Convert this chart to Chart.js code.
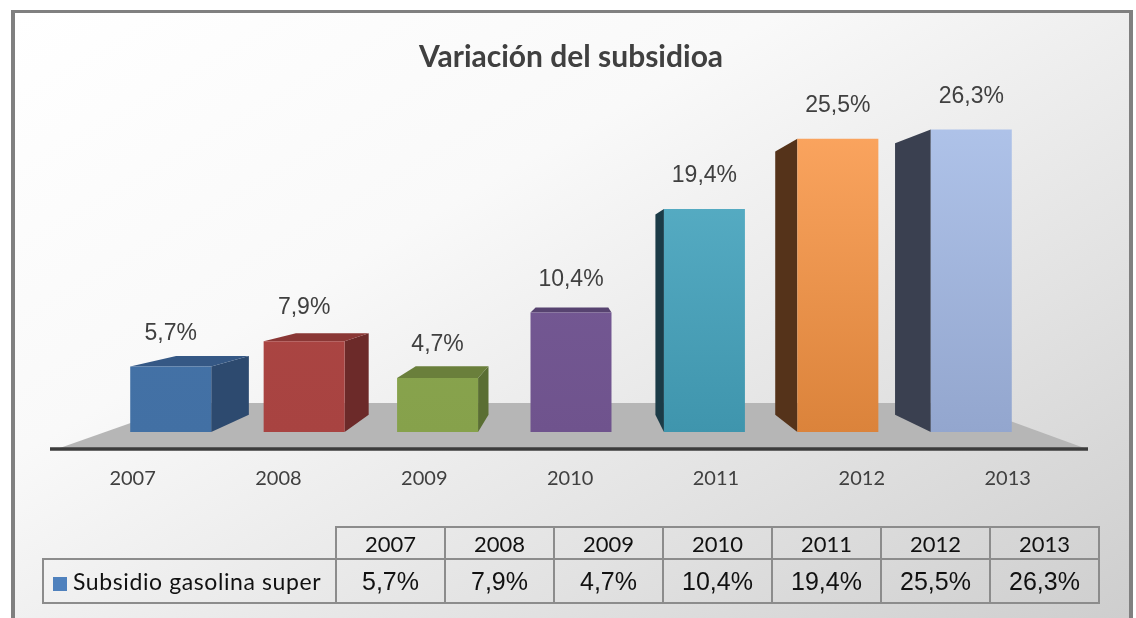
<!DOCTYPE html>
<html lang="es">
<head>
  <meta charset="UTF-8" />
  <title>Variación del subsidioa</title>
  <script src="https://cdn.jsdelivr.net/npm/chart.js"></script>
  <style>
    html, body {
      margin: 0;
      padding: 0;
      background: #ffffff;
      overflow: hidden;
    }
    .stage {
      position: relative;
      width: 1136px;
      height: 618px;
    }
    .frame {
      position: absolute;
      left: 11px;
      top: 10px;
      width: 1114px;
      height: 620px;
      border: 4px solid #808080;
      border-top-width: 3px;
      background: linear-gradient(150deg, #ffffff 0%, #f9f9f9 35%, #e2e2e2 70%, #cdcdcd 100%);
    }
    #chart {
      position: absolute;
      left: 0;
      top: 0;
    }
    .data-table {
      position: absolute;
      left: 42px;
      top: 526px;
      border-collapse: collapse;
      font-family: Lato, 'Open Sans', sans-serif;
      color: #111;
    }
    .data-table td {
      border: 2px solid #8c8c8c;
      text-align: center;
      padding: 0;
      width: 107px;
    }
    .data-table tr.head td {
      height: 30px;
      font-size: 22px;
    }
    .data-table tr.vals td {
      height: 42px;
      font-family: 'Liberation Sans', Arial, sans-serif;
      font-size: 25px;
    }
    .data-table td.blank {
      border-top: none;
      border-left: none;
      width: 292px;
    }
    .data-table tr.vals td.series {
      font-family: Lato, 'Open Sans', sans-serif;
      font-size: 23px;
      letter-spacing: 0.6px;
      text-align: left;
      padding-left: 9px;
    }
    .key {
      display: inline-block;
      width: 14px;
      height: 14px;
      background: #4f81bd;
      margin-right: 6px;
      vertical-align: -1px;
    }
  </style>
</head>
<body>
  <div class="stage">
    <div class="frame"></div>
    <canvas id="chart" width="1136" height="618"></canvas>
    <table class="data-table" id="dataTable"></table>
  </div>

<script>
  const years = ['2007', '2008', '2009', '2010', '2011', '2012', '2013'];
  const subsidio = [5.7, 7.9, 4.7, 10.4, 19.4, 25.5, 26.3];
  const seriesName = 'Subsidio gasolina super';

  // colours: front face top / bottom, side face, top face
  const frontTop = ['#4775ab', '#ae4845', '#8daa54', '#795e9b', '#60b6cd', '#ffa964', '#b2c6ec'];
  const frontBottom = ['#4270a4', '#a84341', '#86a14b', '#6f538d', '#3f95ad', '#db833b', '#93a6ce'];
  const sideColors = ['#2d4a6f', '#6c2a29', '#5a6e33', '#4a3a5e', '#1b3b47', '#55331a', '#3a4050'];
  const topColors = ['#355885', '#8a3735', '#6a7f3b', '#574370', '#2a5a68', '#8a5428', '#5a6478'];

  const fmt = v => v.toFixed(1).replace('.', ',') + '%';

  // data table under the chart
  const table = document.getElementById('dataTable');
  let head = '<tr class="head"><td class="blank"></td>';
  years.forEach(y => head += `<td>${y}</td>`);
  head += '</tr>';
  let row = `<tr class="vals"><td class="series"><span class="key"></span>${seriesName}</td>`;
  subsidio.forEach(v => row += `<td>${fmt(v)}</td>`);
  row += '</tr>';
  table.innerHTML = head + row;

  // perspective centre, shared by the floor, bar faces and category labels
  function vanish(chart) {
    const { chartArea } = chart;
    return {
      vx: chartArea.left + (chartArea.right - chartArea.left) * 0.51,
      vy: chart.scales.y.getPixelForValue(14.6)
    };
  }

  // fake 3D: floor, side and top faces drawn behind the bars
  const perspective = {
    id: 'perspective',
    beforeDatasetsDraw(chart) {
      const { ctx, chartArea } = chart;
      const yScale = chart.scales.y;
      const base = yScale.getPixelForValue(0);
      const { vx, vy } = vanish(chart);
      const proj = (x, y, s) => [vx + (x - vx) * s, vy + (y - vy) * s];

      // floor
      const fy = base + 17;
      const fl = chartArea.left - 47, fr = chartArea.right + 49;
      const bl = proj(fl, fy, 0.751), br = proj(fr, fy, 0.751);
      ctx.save();
      ctx.fillStyle = '#b6b6b6';
      ctx.beginPath();
      ctx.moveTo(fl, fy);
      ctx.lineTo(fr, fy);
      ctx.lineTo(br[0], br[1]);
      ctx.lineTo(bl[0], bl[1]);
      ctx.closePath();
      ctx.fill();
      ctx.strokeStyle = '#3c3c3c';
      ctx.lineWidth = 3.5;
      ctx.beginPath();
      ctx.moveTo(fl - 7, fy);
      ctx.lineTo(fr + 1, fy);
      ctx.stroke();

      const meta = chart.getDatasetMeta(0);
      const d = 0.898;
      meta.data.forEach((bar, i) => {
        const x1 = bar.x - bar.width / 2, x2 = bar.x + bar.width / 2;
        const y1 = bar.y, y2 = bar.base;
        const face = (pts, color) => {
          ctx.fillStyle = color;
          ctx.beginPath();
          ctx.moveTo(pts[0][0], pts[0][1]);
          pts.slice(1).forEach(p => ctx.lineTo(p[0], p[1]));
          ctx.closePath();
          ctx.fill();
        };
        if (x2 < vx) {
          face([[x2, y1], [x2, y2], proj(x2, y2, d), proj(x2, y1, d)], sideColors[i]);
        } else if (x1 > vx) {
          face([[x1, y1], [x1, y2], proj(x1, y2, d), proj(x1, y1, d)], sideColors[i]);
        }
        if (y1 > vy) {
          face([[x1, y1], [x2, y1], proj(x2, y1, d), proj(x1, y1, d)], topColors[i]);
        }
      });
      ctx.restore();
    },
    afterDatasetsDraw(chart) {
      const { ctx } = chart;
      const meta = chart.getDatasetMeta(0);
      const xScale = chart.scales.x;
      const base = chart.scales.y.getPixelForValue(0);
      const { vx } = vanish(chart);
      ctx.save();
      ctx.textAlign = 'center';
      ctx.textBaseline = 'middle';
      ctx.fillStyle = '#404040';

      // value labels above bars
      ctx.font = '23px "Liberation Sans", Arial, sans-serif';
      meta.data.forEach((bar, i) => {
        ctx.fillText(fmt(subsidio[i]), bar.x, bar.y - 33);
      });

      // category labels sit in front of the floor, so they spread out
      ctx.font = '20px Lato, sans-serif';
      years.forEach((label, i) => {
        const x = xScale.getPixelForValue(i);
        ctx.fillText(label, vx + (x - vx) * 1.093, base + 47);
      });
      ctx.restore();
    }
  };

  const canvas = document.getElementById('chart');
  new Chart(canvas.getContext('2d'), {
    type: 'bar',
    data: {
      labels: years,
      datasets: [{
        label: seriesName,
        data: subsidio,
        backgroundColor: context => {
          const chart = context.chart;
          const area = chart.chartArea;
          const i = context.dataIndex;
          if (!area) return frontBottom[i];
          const g = chart.ctx.createLinearGradient(0, area.top, 0, area.bottom);
          g.addColorStop(0, frontTop[i]);
          g.addColorStop(1, frontBottom[i]);
          return g;
        },
        borderWidth: 0,
        categoryPercentage: 1,
        barPercentage: 0.607
      }]
    },
    options: {
      responsive: false,
      animation: false,
      devicePixelRatio: 1,
      layout: {
        padding: { left: 104, right: 98, top: 0, bottom: 186 }
      },
      plugins: {
        legend: { display: false },
        tooltip: { enabled: false },
        title: {
          display: true,
          text: 'Variación del subsidioa',
          color: '#404040',
          font: { family: 'Lato', size: 30, weight: 'bold' },
          padding: { top: 39, bottom: 12 }
        }
      },
      scales: {
        x: {
          display: false
        },
        y: {
          display: false,
          min: 0,
          max: 30
        }
      }
    },
    plugins: [perspective]
  });
</script>
</body>
</html>
